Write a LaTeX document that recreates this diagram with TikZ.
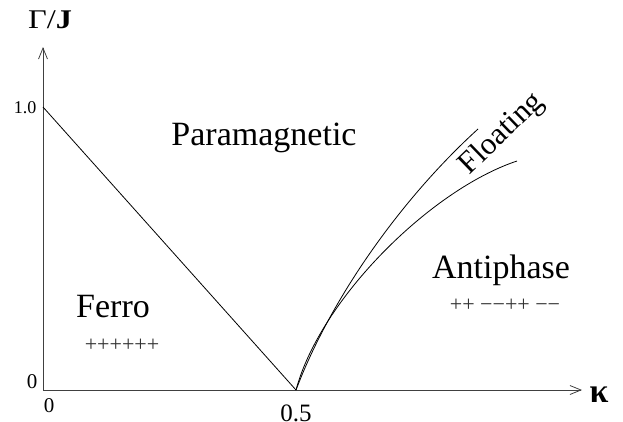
\documentclass[tikz,border=0pt]{standalone}
\usepackage{fontspec}
\setmainfont{Liberation Serif}
\usetikzlibrary{arrows.meta,positioning}

\begin{document}
\begin{tikzpicture}[
    x=1pt, y=-1pt,
    axis/.style={line width=0.9pt, draw=black!75, -{Straight Barb[length=11pt,width=9pt,line width=0.8pt]}},
    border/.style={line width=0.8pt},
    phase/.style={font=\fontsize{34}{36}\selectfont, inner sep=0pt},
    order/.style={font=\fontsize{22}{24}\selectfont, inner sep=0pt, text=black!80},
    tick/.style={font=\fontsize{21}{23}\selectfont, inner sep=0pt}
]
\useasboundingbox (0,0) rectangle (623,421);

% Points
\coordinate (origin) at (43,390);
\coordinate (ytop) at (43,47);
\coordinate (xend) at (582,390);
\coordinate (gone) at (43,107);
\coordinate (crit) at (296,390);
\coordinate (upperend) at (478,129);
\coordinate (lowerend) at (517,161);

% Axes
\draw[axis] (origin) -- (ytop);
\draw[axis] (origin) -- (xend);
\node[font=\fontsize{27}{29}\selectfont, inner sep=0pt, anchor=base] (gammalbl) at (50,28) {\scalebox{1.2}[1]{Γ/\textbf{J}}};
\node[font=\fontsize{34}{36}\selectfont, inner sep=0pt] (kappalbl) at (599,395) {\textbf{κ}};

% Ticks
\node[tick, font=\fontsize{18}{20}\selectfont] (yone) at (25,108) {1.0};
\node[tick] (yzero) at (32,382) {0};
\node[tick] (xzero) at (49,406) {0};
\node[tick, font=\fontsize{25}{27}\selectfont, anchor=north] (xhalf) at (296,405) {0.5};

% Phase boundaries
\draw[border] (gone) -- (crit);
\draw[border] (crit) .. controls (330,300) and (400,200) .. (upperend);
\draw[border] (crit) .. controls (320,300) and (430,190) .. (lowerend);

% Phases
\node[phase, anchor=base] (para) at (264,145) {Paramagnetic};
\node[phase, anchor=base] (ferro) at (113,317) {Ferro};
\node[phase, anchor=base] (anti) at (501,278) {Antiphase};
\node[phase, font=\fontsize{31}{33}\selectfont, rotate=44] (float) at (502,134) {Floating};
\node[order] (ferroord) at (122,345) {++++++};
\node[order] (antiord) at (505,305) {++ −−++ −−};

\end{tikzpicture}
\end{document}
